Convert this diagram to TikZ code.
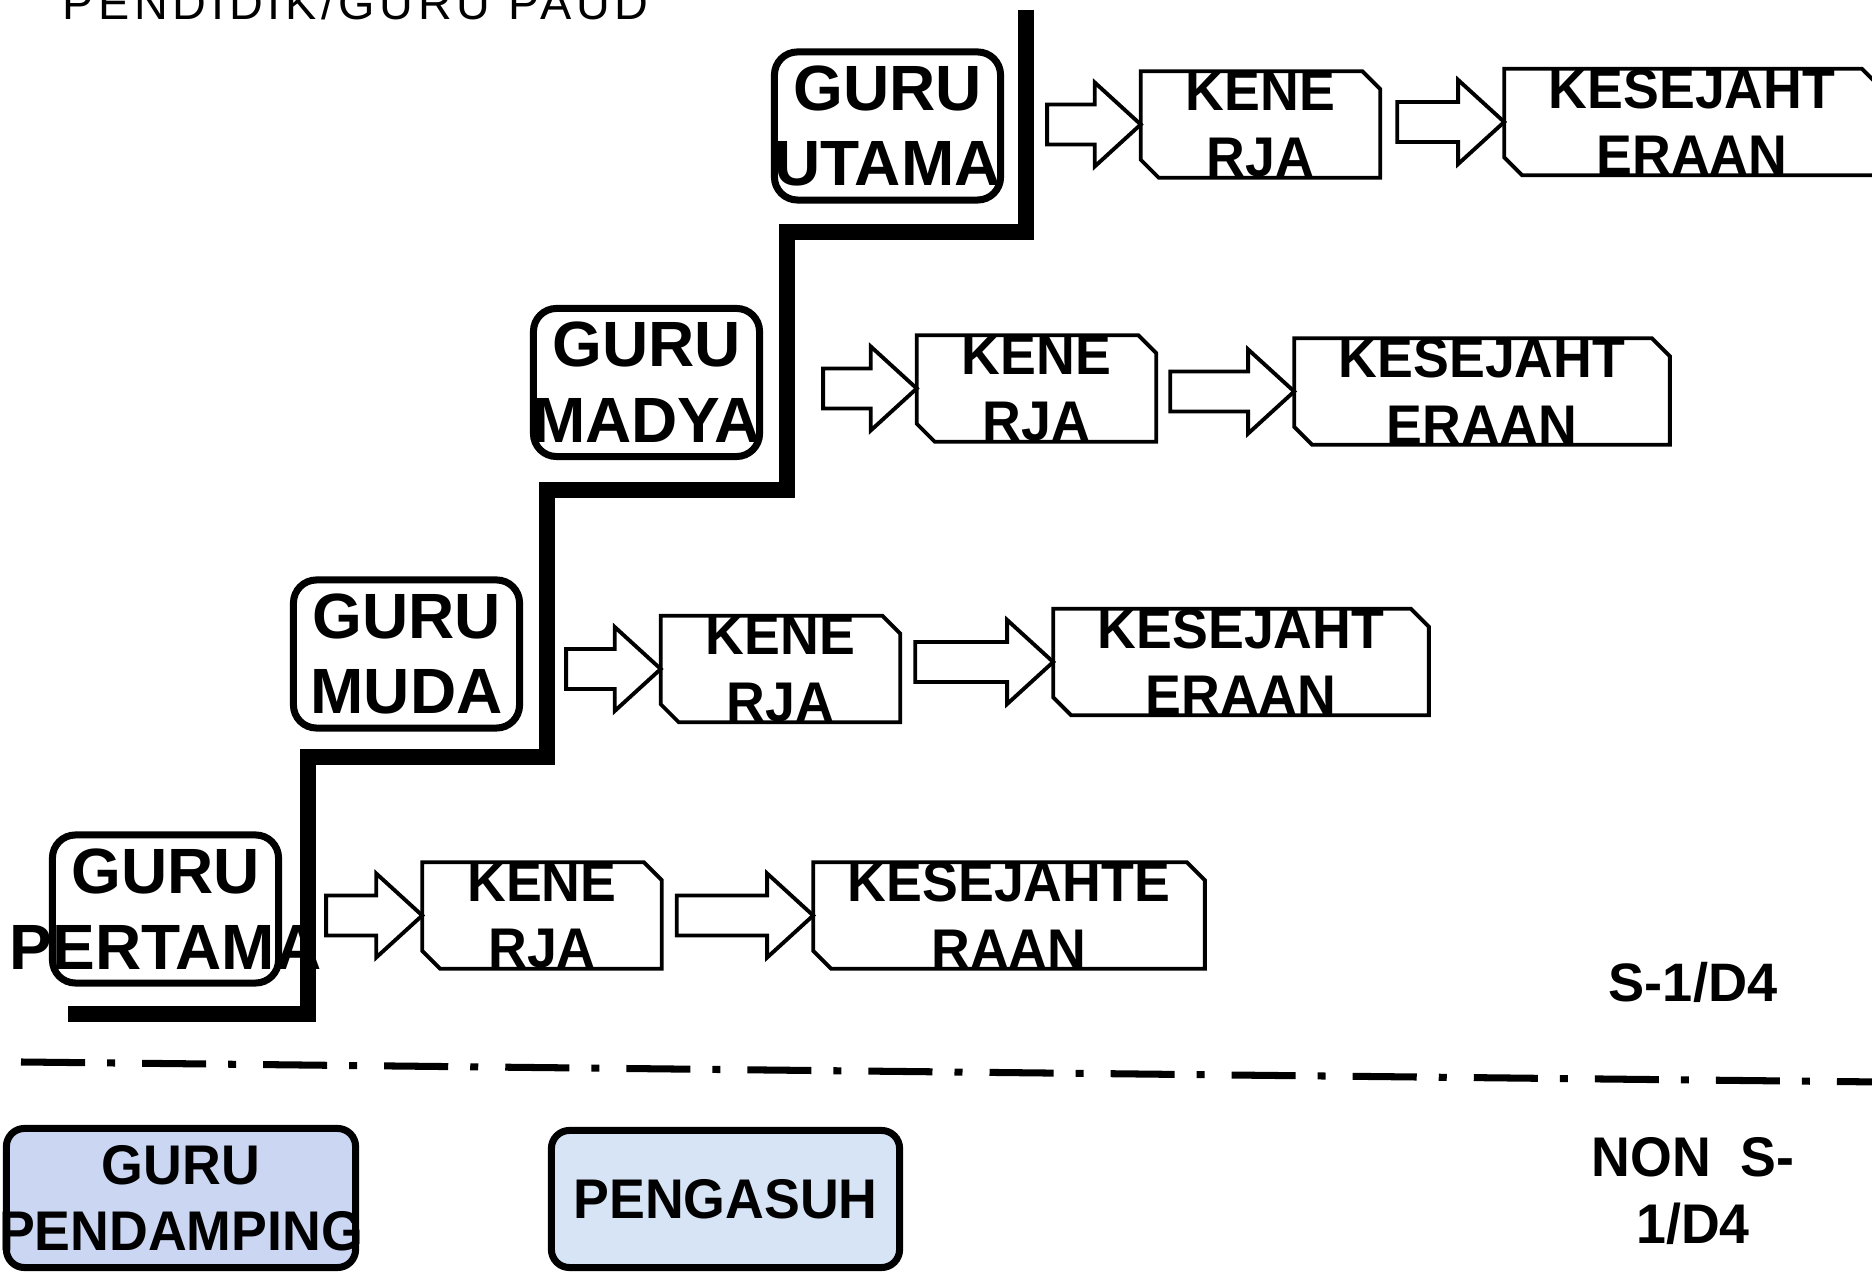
\documentclass[tikz,border=0pt]{standalone}
\usepackage{fontspec}
\setmainfont{Liberation Sans}
\newfontfamily\narrowfamily{Liberation Sans}[FakeStretch=0.96]
\usetikzlibrary{calc}

\newcommand{\gurufont}{\fontsize{18.2pt}{21.6pt}\selectfont\bfseries}
\newcommand{\boxfont}{\narrowfamily\fontsize{15.9pt}{18.8pt}\selectfont\bfseries}
\newcommand{\boxline}[1]{\makebox[0pt]{#1}}

% block arrow from one box to the next
\newcommand{\blockarr}[3]{%
  \draw[blockarrow] let \p1=(#1.east), \p2=(#2.west) in
    (\x1+#3,\y2+0.2cm) -- (\x2-0.46cm,\y2+0.2cm) -- (\x2-0.46cm,\y2+0.42cm)
    -- (\p2) -- (\x2-0.46cm,\y2-0.42cm) -- (\x2-0.46cm,\y2-0.2cm)
    -- (\x1+#3,\y2-0.2cm) -- cycle;}

\tikzset{
  gurubox/.style={draw, line width=2pt, rounded corners=0.23cm, minimum width=2.26cm,
    minimum height=1.48cm, inner sep=0pt, align=center, font=\gurufont},
  cutbox/.style={inner sep=0pt, align=center, font=\boxfont, minimum height=1.03cm},
  cutline/.style={line width=1.1pt},
  blockarrow/.style={line width=1.1pt, fill=white},
  stair/.style={line width=4.3pt},
  sepline/.style={line width=2pt, dash pattern=on 0.64cm off 0.22cm on 0.08cm off 0.27cm},
  lowbox/.style={draw, line width=2pt, rounded corners=0.18cm, inner sep=0pt,
    align=center, font=\boxfont},
}

\begin{document}
\begin{tikzpicture}[x=0.01cm,y=-0.01cm]
    \useasboundingbox (0,0) rectangle (1872,1274);

    % Title (cut at the top)
    \node[anchor=base west, inner sep=0pt] (title) at (62,20)
        {\fontsize{13.3pt}{15pt}\selectfont\addfontfeature{LetterSpace=10}PENDIDIK/GURU PAUD};

    % Staircase corners
    \coordinate (s0) at (68,1014);
    \coordinate (s1) at (308,1014);
    \coordinate (s2) at (308,757);
    \coordinate (s3) at (547,757);
    \coordinate (s4) at (547,490);
    \coordinate (s5) at (787,490);
    \coordinate (s6) at (787,232);
    \coordinate (s7) at (1026,232);
    \coordinate (s8) at (1026,10);

    % Draw the staircase
    \draw[stair] (s0) -- (s1) -- (s2) -- (s3) -- (s4) -- (s5) -- (s6) -- (s7) -- (s8);

    % Guru levels
    \node[gurubox] (utama) at (887.5,126) {\boxline{GURU}\\\boxline{UTAMA}};
    \node[gurubox] (madya) at (646.5,382.5) {\boxline{GURU}\\\boxline{MADYA}};
    \node[gurubox] (muda) at (406.5,654) {\boxline{GURU}\\\boxline{MUDA}};
    \node[gurubox] (pertama) at (165.5,909) {\boxline{GURU}\\\boxline{PERTAMA}};

    % Kinerja boxes
    \node[cutbox, minimum width=2.38cm] (kene1) at (1260.5,124.5) {KENE\\RJA};
    \node[cutbox, minimum width=2.38cm] (kene2) at (1036.5,388.5) {KENE\\RJA};
    \node[cutbox, minimum width=2.38cm] (kene3) at (780.5,669) {KENE\\RJA};
    \node[cutbox, minimum width=2.38cm] (kene4) at (542,915.5) {KENE\\RJA};

    % Kesejahteraan boxes
    \node[cutbox, minimum width=3.74cm] (kes1) at (1692,122) {KESEJAHT\\ERAAN};
    \node[cutbox, minimum width=3.74cm] (kes2) at (1482,391.5) {KESEJAHT\\ERAAN};
    \node[cutbox, minimum width=3.74cm] (kes3) at (1241,662) {KESEJAHT\\ERAAN};
    \node[cutbox, minimum width=3.90cm] (kes4) at (1009,915.5) {KESEJAHTE\\RAAN};

    % Outlines with two cut corners
    \foreach \n in {kene1,kene2,kene3,kene4,kes1,kes2,kes3,kes4}
        \draw[cutline] (\n.north west) -- ([xshift=-0.18cm]\n.north east)
            -- ([yshift=-0.18cm]\n.north east) -- (\n.south east)
            -- ([xshift=0.18cm]\n.south west) -- ([yshift=0.18cm]\n.south west) -- cycle;

    % Block arrows
    \foreach \a/\b/\g in {utama/kene1/0.43cm, kene1/kes1/0.17cm,
                          madya/kene2/0.6cm, kene2/kes2/0.14cm,
                          muda/kene3/0.43cm, kene3/kes3/0.15cm,
                          pertama/kene4/0.44cm, kene4/kes4/0.15cm}
        \blockarr{\a}{\b}{\g};

    % Level labels
    \node[font=\fontsize{15.4pt}{18pt}\selectfont\bfseries] (s1d4) at (1693,982) {S-1/D4};
    \node[font=\boxfont, align=center] (nons1d4) at (1693,1191) {NON~~S-\\1/D4};

    % Dash-dot separator
    \coordinate (d0) at (21,1062);
    \coordinate (d1) at (1880,1082);
    \draw[sepline] (d0) -- (d1);

    % Non S-1/D4 boxes
    \node[lowbox, fill={rgb,255:red,203;green,214;blue,243}, minimum width=3.49cm,
        minimum height=1.39cm] (pendamping) at (181,1198)
        {\boxline{GURU}\\\boxline{PENDAMPING}};
    \node[lowbox, fill={rgb,255:red,214;green,228;blue,246}, minimum width=3.48cm,
        minimum height=1.37cm] (pengasuh) at (725.5,1199) {PENGASUH};

\end{tikzpicture}
\end{document}
